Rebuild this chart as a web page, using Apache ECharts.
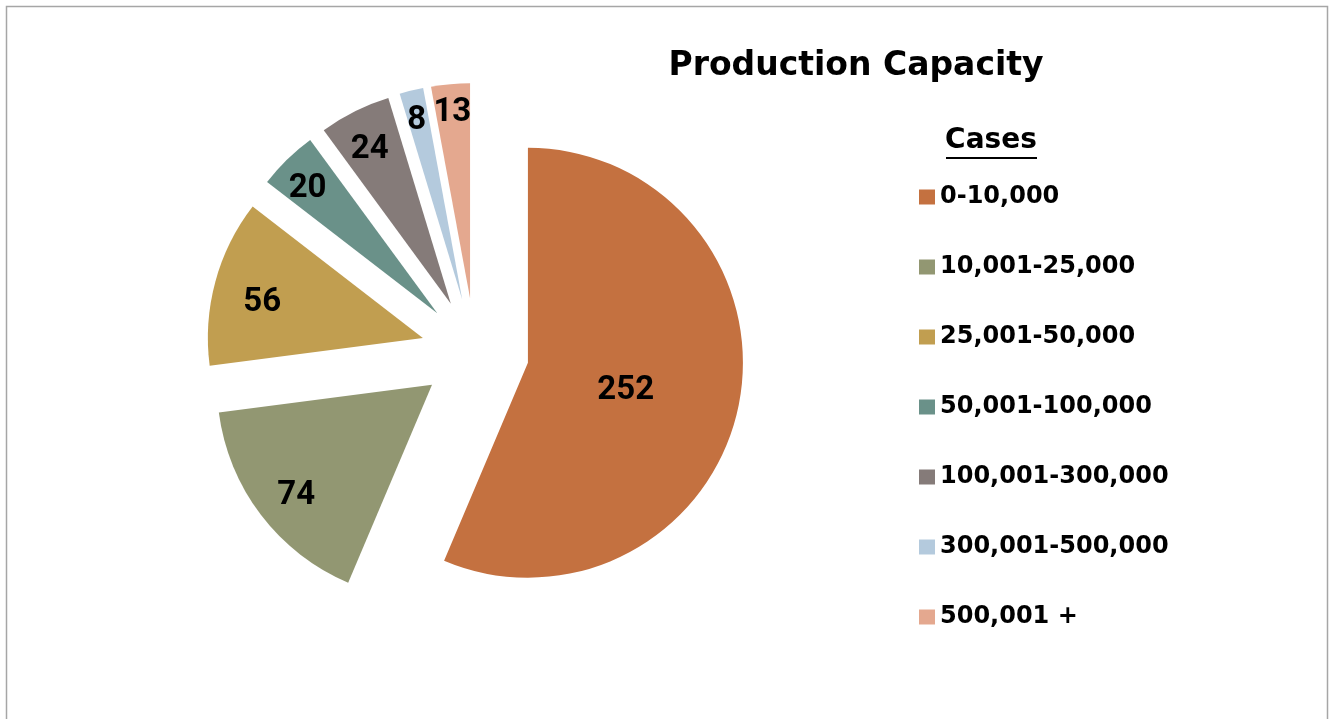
<!DOCTYPE html>
<html>
<head>
<meta charset="utf-8">
<script src="https://cdn.jsdelivr.net/npm/echarts@6/dist/echarts.min.js"></script>
<style>
html,body{margin:0;padding:0;background:#fff;}
#chart{width:1330px;height:719px;}
</style>
</head>
<body>
<div id="chart"></div>
<script>
const categories = ['0-10,000','10,001-25,000','25,001-50,000','50,001-100,000','100,001-300,000','300,001-500,000','500,001 +'];
const values = [252, 74, 56, 20, 24, 8, 13];
const colors = ['#C47140','#929772','#C19E50','#6A9189','#857B79','#B4CADD','#E4A88F'];
const labelRadiusFrac = [0.45, 0.78, 0.76, 0.85, 0.83, 0.88, 0.89];

const TEXT_FONT = '"DejaVu Sans"';
const LABEL_FONT = 'Roboto';
const R = 215;
const total = values.reduce((a, b) => a + b, 0);
const midAngles = [];
let acc = 0;
values.forEach(v => { midAngles.push((acc + v / 2) / total * 2 * Math.PI); acc += v; });

const chart = echarts.init(document.getElementById('chart'), null, {renderer: 'canvas'});
chart.setOption({
  animation: false,
  backgroundColor: '#ffffff',
  color: colors,
  graphic: [
    {type: 'rect', shape: {x: 6.5, y: 6.5, width: 1321, height: 740}, style: {fill: 'none', stroke: '#A6A6A6', lineWidth: 1.5}, silent: true},
    {type: 'text', x: 856, y: 66, style: {text: 'Production Capacity', font: 'bold 33px ' + TEXT_FONT, fill: '#000', textAlign: 'center', textVerticalAlign: 'middle'}},
    {type: 'text', x: 991, y: 141, style: {text: 'Cases', font: 'bold 28px ' + TEXT_FONT, fill: '#000', textAlign: 'center', textVerticalAlign: 'middle'}},
    {type: 'line', shape: {x1: 946, y1: 158, x2: 1037, y2: 158}, style: {stroke: '#000', lineWidth: 2}}
  ],
  legend: {
    orient: 'vertical',
    left: 914,
    top: 179,
    icon: 'rect',
    itemWidth: 16,
    itemHeight: 15,
    itemGap: 44,
    selectedMode: false,
    data: categories,
    textStyle: {fontFamily: TEXT_FONT, fontWeight: 'bold', fontSize: 24, color: '#000', lineHeight: 26}
  },
  series: [{
    type: 'pie',
    center: [475, 352],
    radius: [0, R],
    startAngle: 90,
    clockwise: true,
    selectedMode: 'multiple',
    selectedOffset: 54,
    avoidLabelOverlap: false,
    emphasis: {scale: false},
    itemStyle: {borderWidth: 0},
    label: {show: true, position: 'inner', formatter: '{c}', fontFamily: LABEL_FONT, fontWeight: 'bold', fontSize: 33, color: '#000'},
    labelLine: {show: false},
    labelLayout: function (params) {
      const i = params.dataIndex;
      const extra = (labelRadiusFrac[i] - 0.5) * R;
      const a = midAngles[i];
      return {dx: extra * Math.sin(a), dy: -extra * Math.cos(a) + 8};
    },
    data: categories.map((name, i) => ({name: name, value: values[i], selected: true}))
  }]
});
</script>
</body>
</html>
